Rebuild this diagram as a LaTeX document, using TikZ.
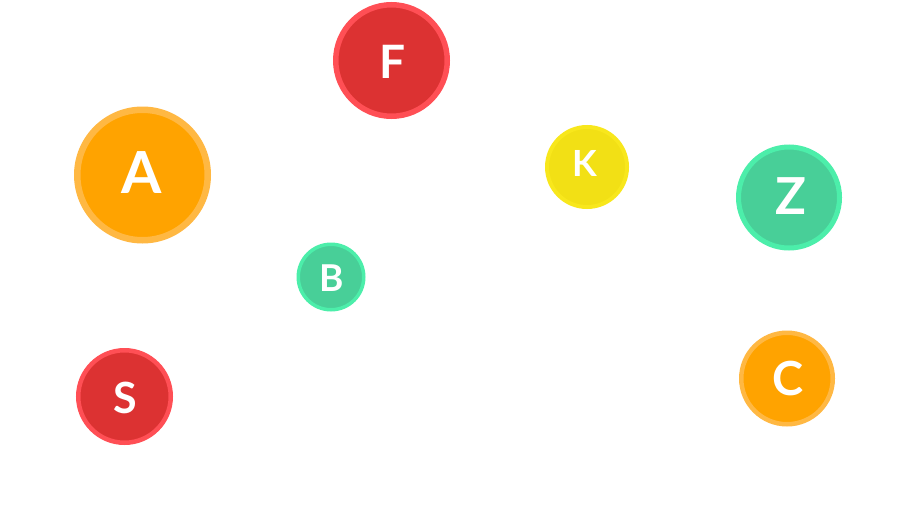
\documentclass[tikz,border=0pt]{standalone}
\usepackage{fontspec}
\setmainfont{Lato}
\definecolor{redfill}{HTML}{DC3232}
\definecolor{redline}{HTML}{FF4F55}
\definecolor{orfill}{HTML}{FFA300}
\definecolor{orline}{HTML}{FFB843}
\definecolor{yefill}{HTML}{F2E015}
\definecolor{yeline}{HTML}{F8E71C}
\definecolor{grfill}{HTML}{48CF98}
\definecolor{grline}{HTML}{4CEEAA}
\tikzset{
  ball/.style n args={4}{circle, inner sep=0pt, fill=#1, draw=#2,
    line width=#4, minimum size={2*#3-#4}},
  letter/.style={text=white, inner sep=0pt, anchor=base, font=\fontsize{#1}{#1}\selectfont\bfseries}
}
\begin{document}
\begin{tikzpicture}[x=1pt,y=-1pt]
\useasboundingbox[fill=white] (0,0) rectangle (909,522);
\node[ball={redfill}{redline}{58.5pt}{5.5pt}] (F) at (391.5,60.5) {};
\node[ball={orfill}{orline}{68.5pt}{6.5pt}] (A) at (142.5,175) {};
\node[ball={yefill}{yeline}{42pt}{4pt}] (K) at (587,167) {};
\node[ball={grfill}{grline}{53pt}{5pt}] (Z) at (789,197.5) {};
\node[ball={grfill}{grline}{34.5pt}{3.5pt}] (B) at (331,277) {};
\node[ball={redfill}{redline}{48.5pt}{4.5pt}] (S) at (124.5,396.5) {};
\node[ball={orfill}{orline}{48pt}{4.5pt}] (C) at (787,378.5) {};
\node[letter=46pt] (Ft) at (392.5,78.2) {F};
\node[letter=58pt] (At) at (141.7,193.3) {A};
\node[letter=36pt] (Kt) at (584.7,176) {K};
\node[letter=51pt] (Zt) at (790.5,214) {Z};
\node[letter=37pt] (Bt) at (331.7,291) {B};
\node[letter=43pt] (St) at (125,413) {S};
\node[letter=47pt] (Ct) at (787.8,395.5) {C};
\end{tikzpicture}
\end{document}
